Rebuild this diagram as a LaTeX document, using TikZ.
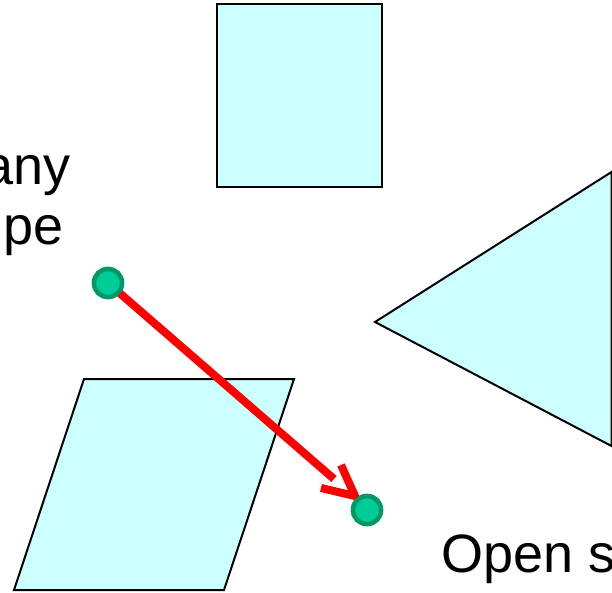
\documentclass[tikz,border=0pt]{standalone}
\usepackage{fontspec}
\setmainfont{Liberation Sans}
\definecolor{shapefill}{RGB}{204,255,255}
\definecolor{dotfill}{RGB}{0,204,153}
\definecolor{dotline}{RGB}{0,153,102}
\begin{document}
\begin{tikzpicture}[x=1pt,y=-1pt,
  shapestyle/.style={draw=black,fill=shapefill,line width=2pt,line join=miter},
  dotstyle/.style={circle,draw=dotline,fill=dotfill,line width=4.5pt,minimum size=28pt,inner sep=0pt},
  redline/.style={draw=red,line width=8pt},
  bigtext/.style={font=\fontsize{54}{60}\selectfont,inner sep=0pt}]
\useasboundingbox (0,0) rectangle (612,593);
\clip (0,0) rectangle (612,593);
% shapes
\draw[shapestyle] (217,4) rectangle (382,187);
\draw[shapestyle] (84,379) -- (294,379) -- (224,590) -- (14,590) -- cycle;
\draw[shapestyle] (375,322) -- (611.5,172) -- (611.5,446) -- cycle;
% texts
\node[bigtext,anchor=base east] (t1) at (71,185) {any};
\node[bigtext,anchor=base east] (t2) at (64,245) {pe};
\node[bigtext,anchor=base west] (t3) at (441,572) {Open s};
% connector
\node[dotstyle] (d1) at (108,283) {};
\node[dotstyle] (d2) at (367,510) {};
\coordinate (shaftend) at (334,479);
\coordinate (tip) at (355,496);
\coordinate (arm1) at (341,465);
\coordinate (arm2) at (321,488);
\draw[redline] (d1.center) -- (shaftend);
\draw[redline,line join=miter] (arm1) -- (tip) -- (arm2);
\node[dotstyle] at (d1) {};
\node[dotstyle] at (d2) {};
\end{tikzpicture}
\end{document}
